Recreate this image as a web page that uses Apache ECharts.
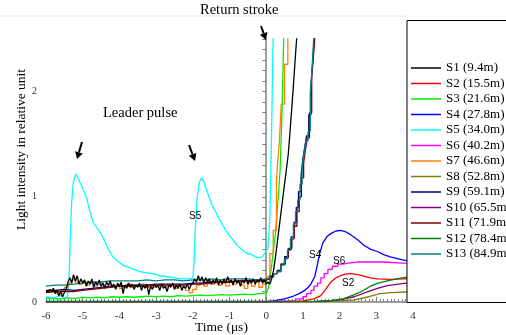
<!DOCTYPE html>
<html>
<head>
<meta charset="utf-8">
<script src="https://cdn.jsdelivr.net/npm/echarts@6/dist/echarts.min.js"></script>
<style>
  html, body { margin: 0; padding: 0; background: #fff; }
  #chart { width: 506px; height: 335px; }
</style>
</head>
<body>
<div id="chart"></div>
<script>
// Light intensity recorded at 13 stations along the channel, time in microseconds.
const seriesNames = ['S1 (9.4m)', 'S2 (15.5m)', 'S3 (21.6m)', 'S4 (27.8m)', 'S5 (34.0m)', 'S6 (40.2m)',
  'S7 (46.6m)', 'S8 (52.8m)', 'S9 (59.1m)', 'S10 (65.5m)', 'S11 (71.9m)', 'S12 (78.4m)', 'S13 (84.9m)'];
const seriesColors = ['#000000', '#ff0000', '#00ee00', '#0000ff', '#00ffff', '#ff00ff',
  '#ff8000', '#808000', '#000080', '#800080', '#800000', '#008000', '#008080'];
const xTicks = [-6, -5, -4, -3, -2, -1, 0, 1, 2, 3, 4];
const yTicks = [0, 1, 2];

// S1: pre-stroke record sampled every 0.05 us from -6 us, then the rise
const s1Start = -6, s1Step = 0.05;
const s1Noise = [0.11, 0.09, 0.12, 0.10, 0.13, 0.08, 0.11, 0.06, 0.10, 0.05, 0.09, 0.12, 0.19, 0.23, 0.18, 0.26, 0.20, 0.25, 0.17, 0.22,
  0.18, 0.21, 0.15, 0.20, 0.17, 0.22, 0.14, 0.19, 0.16, 0.21, 0.15, 0.18, 0.13, 0.19, 0.16, 0.20, 0.14, 0.17, 0.12, 0.18,
  0.15, 0.19, 0.08, 0.16, 0.13, 0.18, 0.14, 0.17, 0.12, 0.16, 0.14, 0.18, 0.11, 0.16, 0.13, 0.17, 0.07, 0.15, 0.12, 0.17,
  0.14, 0.16, 0.11, 0.17, 0.13, 0.15, 0.10, 0.16, 0.14, 0.18, 0.12, 0.16, 0.13, 0.17, 0.11, 0.15, 0.13, 0.17, 0.12, 0.16,
  0.18, 0.22, 0.19, 0.25, 0.20, 0.24, 0.18, 0.23, 0.19, 0.22, 0.17, 0.21, 0.18, 0.23, 0.16, 0.21, 0.17, 0.22, 0.18, 0.24,
  0.19, 0.21, 0.16, 0.22, 0.18, 0.20, 0.15, 0.21, 0.18, 0.23, 0.17, 0.21, 0.18, 0.22, 0.17, 0.21, 0.19, 0.23, 0.18, 0.21, 0.17];
const s1RiseT = [0.05, 0.10, 0.15, 0.20, 0.25, 0.30, 0.35, 0.40, 0.45, 0.50, 0.55, 0.60, 0.65, 0.70, 0.75, 0.80, 0.84];
const s1RiseV = [0.19, 0.17, 0.22, 0.30, 0.42, 0.56, 0.70, 0.84, 0.98, 1.12, 1.26, 1.40, 1.62, 1.86, 2.10, 2.36, 2.55];

// S2
const s2T = [-6, 0, 1.0, 1.3, 1.49, 1.6, 1.7, 1.76, 1.9, 2.03, 2.15, 2.3, 2.5, 2.66, 2.85, 3.03, 3.4, 3.72, 4];
const s2V = [0.003, 0.003, 0.01, 0.03, 0.06, 0.11, 0.16, 0.19, 0.23, 0.25, 0.265, 0.27, 0.26, 0.245, 0.23, 0.22, 0.215, 0.22, 0.22];

// S3: baseline every 0.2 us from -6 us, then the rise
const s3Start = -6, s3Step = 0.2;
const s3Base = [0.03, 0.035, 0.03, 0.04, 0.035, 0.045, 0.04, 0.045, 0.04, 0.05, 0.045, 0.05, 0.045, 0.05, 0.055, 0.05,
  0.055, 0.05, 0.06, 0.055, 0.06, 0.065, 0.06, 0.065, 0.07, 0.065, 0.07, 0.075, 0.07, 0.08, 0.085];
const s3RiseT = [0.05, 0.1, 0.15, 0.2, 0.25, 0.3, 0.38, 0.43, 0.48];
const s3RiseV = [0.12, 0.22, 0.35, 0.5, 0.65, 0.86, 1.26, 1.8, 2.55];

// S4
const s4T = [-6, 0, 0.2, 0.5, 0.7, 0.9, 1.05, 1.2, 1.32, 1.38, 1.45, 1.54, 1.65, 1.76, 1.9, 2.03, 2.15, 2.3, 2.5, 2.66, 2.85, 3.03, 3.2, 3.38, 3.55, 3.72, 4.0];
const s4V = [0.005, 0.005, 0.01, 0.03, 0.05, 0.08, 0.11, 0.16, 0.24, 0.33, 0.45, 0.56, 0.62, 0.65, 0.675, 0.68, 0.67, 0.64, 0.59, 0.54, 0.5, 0.48, 0.45, 0.43, 0.415, 0.40, 0.38];

// S5: two leader pulses and the return stroke
const s5T = [-6.0, -5.8, -5.6, -5.5, -5.42, -5.38, -5.34, -5.3, -5.25, -5.18, -5.12, -5.05, -4.98, -4.9, -4.82, -4.72, -4.62, -4.52,
  -4.4, -4.3, -4.18, -4.05, -3.9, -3.75, -3.6, -3.45, -3.3, -3.1, -2.9, -2.7, -2.5, -2.3, -2.1, -2.0,
  -1.97, -1.93, -1.88, -1.82, -1.76, -1.7, -1.62, -1.54, -1.45, -1.38, -1.3, -1.2, -1.1, -1.0, -0.9, -0.8, -0.7, -0.6,
  -0.5, -0.4, -0.3, -0.2, -0.1, -0.05, 0.0, 0.05, 0.1, 0.13, 0.16, 0.19];
const s5V = [0.05, 0.04, 0.06, 0.04, 0.05, 0.15, 0.6, 0.95, 1.15, 1.22, 1.17, 1.12, 1.06, 1.0, 0.88, 0.76, 0.71, 0.66,
  0.58, 0.5, 0.43, 0.39, 0.35, 0.33, 0.31, 0.29, 0.28, 0.27, 0.25, 0.24, 0.23, 0.22, 0.22, 0.23,
  0.35, 0.7, 1.0, 1.14, 1.18, 1.14, 1.06, 0.98, 0.9, 0.86, 0.8, 0.74, 0.68, 0.63, 0.59, 0.54, 0.51, 0.48,
  0.46, 0.45, 0.43, 0.42, 0.43, 0.46, 0.48, 0.52, 0.8, 1.3, 1.9, 2.55];

// S6
const s6T = [-6, 0, 0.8, 1.0, 1.1, 1.22, 1.3, 1.4, 1.49, 1.58, 1.68, 1.8, 1.95, 2.1, 2.22, 2.5, 2.84, 3.2, 3.72, 4];
const s6V = [0.003, 0.003, 0.01, 0.03, 0.05, 0.08, 0.11, 0.15, 0.18, 0.23, 0.27, 0.31, 0.34, 0.36, 0.37, 0.38, 0.38, 0.38, 0.37, 0.37];

// S7: baseline every 0.1 us from -6 us, then the rise
const s7Start = -6, s7Step = 0.1;
const s7Base = [0.10, 0.09, 0.11, 0.10, 0.08, 0.11, 0.14, 0.18, 0.21, 0.19, 0.17, 0.19, 0.16, 0.18, 0.15, 0.17, 0.16, 0.14, 0.17, 0.15,
  0.16, 0.13, 0.15, 0.17, 0.14, 0.16, 0.15, 0.17, 0.14, 0.16, 0.14, 0.15, 0.17, 0.14, 0.16, 0.15, 0.13, 0.16, 0.14, 0.11,
  0.09, 0.12, 0.16, 0.18, 0.15, 0.19, 0.17, 0.20, 0.16, 0.18, 0.15, 0.19, 0.17, 0.20, 0.16, 0.13, 0.18, 0.15, 0.19, 0.14, 0.17];
const s7RiseT = [0.1, 0.19, 0.28, 0.32, 0.36, 0.41, 0.5, 0.59, 0.68];
const s7RiseV = [0.24, 0.46, 0.68, 1.16, 1.35, 1.53, 1.88, 2.26, 2.55];

// S8, S10, S12
const s8T = [-6, 0, 1.8, 2.4, 2.8, 3.1, 3.4, 3.8, 4];
const s8V = [0.002, 0.002, 0.005, 0.02, 0.05, 0.08, 0.09, 0.095, 0.095];
const s10T = [-6, 0, 1.5, 2.0, 2.4, 2.7, 3.03, 3.3, 3.6, 3.8, 4];
const s10V = [0.002, 0.002, 0.005, 0.02, 0.05, 0.09, 0.13, 0.155, 0.17, 0.18, 0.185];
const s12T = [-6, 0, 1.3, 1.8, 2.1, 2.4, 2.6, 2.84, 3.05, 3.3, 3.55, 3.8, 4];
const s12V = [0.002, 0.002, 0.005, 0.015, 0.03, 0.07, 0.1, 0.15, 0.18, 0.2, 0.22, 0.235, 0.24];

// S9, S11, S13: baseline every 0.25 us from -6 us, then stepped rise
const slowStart = -6, slowStep = 0.25;
const s9Base = [0.11, 0.11, 0.12, 0.11, 0.12, 0.13, 0.14, 0.15, 0.15, 0.16, 0.16, 0.16, 0.17, 0.17, 0.17, 0.17, 0.18, 0.18, 0.19, 0.19, 0.19, 0.2, 0.2, 0.2, 0.2];
const s9RiseT = [0.1, 0.2, 0.3, 0.4, 0.5, 0.6, 0.68, 0.76, 0.82, 0.88, 0.95, 1.0, 1.05, 1.1, 1.16, 1.22, 1.27, 1.32, 1.36];
const s9RiseV = [0.22, 0.24, 0.27, 0.3, 0.36, 0.43, 0.5, 0.62, 0.76, 0.9, 1.05, 1.2, 1.36, 1.47, 1.58, 1.78, 2.05, 2.3, 2.55];
const s11Base = [0.09, 0.1, 0.1, 0.1, 0.11, 0.12, 0.13, 0.14, 0.15, 0.15, 0.15, 0.15, 0.16, 0.16, 0.16, 0.16, 0.17, 0.17, 0.18, 0.19, 0.19, 0.2, 0.2, 0.21, 0.21];
const s11RiseT = [0.1, 0.2, 0.3, 0.4, 0.52, 0.6, 0.7, 0.76, 0.84, 0.9, 0.96, 1.02, 1.07, 1.12, 1.18, 1.24, 1.28, 1.33, 1.37];
const s11RiseV = [0.22, 0.25, 0.27, 0.29, 0.36, 0.42, 0.51, 0.6, 0.72, 0.86, 1.0, 1.18, 1.32, 1.45, 1.56, 1.8, 2.15, 2.3, 2.55];
const s13Base = [0.15, 0.16, 0.16, 0.17, 0.18, 0.19, 0.19, 0.2, 0.2, 0.2, 0.2, 0.21, 0.2, 0.21, 0.21, 0.2, 0.21, 0.21, 0.22, 0.21, 0.22, 0.22, 0.22, 0.21, 0.22];
const s13RiseT = [0.1, 0.2, 0.3, 0.4, 0.5, 0.58, 0.66, 0.74, 0.8, 0.86, 0.92, 0.98, 1.03, 1.08, 1.14, 1.2, 1.25, 1.3, 1.35];
const s13RiseV = [0.23, 0.25, 0.27, 0.29, 0.35, 0.41, 0.49, 0.60, 0.74, 0.86, 0.97, 1.12, 1.28, 1.42, 1.53, 1.62, 1.98, 2.22, 2.55];

// pair helpers
function pairs(ts, vs) { return ts.map((t, i) => [t, vs[i]]); }
function sampled(start, step, vs) { return vs.map((v, i) => [+(start + i * step).toFixed(3), v]); }

const seriesData = [
  sampled(s1Start, s1Step, s1Noise).concat(pairs(s1RiseT, s1RiseV)),
  pairs(s2T, s2V),
  sampled(s3Start, s3Step, s3Base).concat(pairs(s3RiseT, s3RiseV)),
  pairs(s4T, s4V),
  pairs(s5T, s5V),
  pairs(s6T, s6V),
  sampled(s7Start, s7Step, s7Base).concat(pairs(s7RiseT, s7RiseV)),
  pairs(s8T, s8V),
  sampled(slowStart, slowStep, s9Base).concat(pairs(s9RiseT, s9RiseV)),
  pairs(s10T, s10V),
  sampled(slowStart, slowStep, s11Base).concat(pairs(s11RiseT, s11RiseV)),
  pairs(s12T, s12V),
  sampled(slowStart, slowStep, s13Base).concat(pairs(s13RiseT, s13RiseV))
];
const stepped = [false, false, false, false, false, 'start', 'start', false, 'start', false, 'start', false, 'start'];

const serif = 'Liberation Serif';
const chart = echarts.init(document.getElementById('chart'), null, { renderer: 'canvas' });

const series = seriesNames.map((name, i) => ({
  name: name,
  type: 'line',
  data: seriesData[i],
  color: seriesColors[i],
  step: stepped[i],
  showSymbol: false,
  symbol: 'none',
  animation: false,
  z: i === 0 ? 3 : 2,
  lineStyle: { width: 1.3, color: seriesColors[i] }
}));

function arrow(x1, y1, x2, y2) {
  const ang = Math.atan2(y2 - y1, x2 - x1);
  const hl = 7, hw = 4;
  const bx = x2 - hl * Math.cos(ang), by = y2 - hl * Math.sin(ang);
  const px = -Math.sin(ang) * hw, py = Math.cos(ang) * hw;
  return [
    { type: 'line', z: 60, shape: { x1: x1, y1: y1, x2: bx, y2: by }, style: { stroke: '#000', lineWidth: 2 } },
    { type: 'polygon', z: 60, shape: { points: [[x2, y2], [bx + px, by + py], [bx - px, by - py]] }, style: { fill: '#000' } }
  ];
}

const graphics = [
  { type: 'line', z: 1, shape: { x1: 0, y1: 16, x2: 406, y2: 16 }, style: { stroke: '#e6e6e6', lineWidth: 1 } },
  { type: 'rect', z: 50, shape: { x: 407, y: 20.5, width: 120, height: 282 }, style: { fill: '#fff', stroke: '#000', lineWidth: 1 } },
  { type: 'text', z: 60, left: 200, top: 3, style: { text: 'Return stroke', font: '14.5px "Liberation Serif"', fill: '#000' } },
  { type: 'text', z: 60, left: 103, top: 106, style: { text: 'Leader pulse', font: '14.5px "Liberation Serif"', fill: '#000' } },
  { type: 'text', z: 60, left: 195, top: 320, style: { text: 'Time (μs)', font: '13.5px "Liberation Serif"', fill: '#000' } },
  { type: 'text', z: 60, x: 21, y: 149.5, rotation: Math.PI / 2,
    style: { text: 'Light intensity in relative unit', font: '13.5px "Liberation Serif"', fill: '#000', align: 'center', verticalAlign: 'middle' } },
  { type: 'text', z: 60, left: 189, top: 211, style: { text: 'S5', font: '10px "Liberation Sans"', fill: '#000' } },
  { type: 'text', z: 60, left: 309, top: 250, style: { text: 'S4', font: '10px "Liberation Sans"', fill: '#000' } },
  { type: 'text', z: 60, left: 333, top: 256, style: { text: 'S6', font: '10px "Liberation Sans"', fill: '#000' } },
  { type: 'text', z: 60, left: 342, top: 278, style: { text: 'S2', font: '10px "Liberation Sans"', fill: '#000' } }
].concat(arrow(82, 142, 77, 159), arrow(189, 145, 195, 161), arrow(261, 26, 266, 40));

chart.setOption({
  animation: false,
  backgroundColor: '#fff',
  grid: { left: 46, top: 39, right: 93, bottom: 33, containLabel: false },
  legend: {
    show: true,
    data: seriesNames,
    orient: 'vertical',
    left: 411,
    top: 60.5,
    padding: 0,
    itemWidth: 30,
    itemHeight: 1.5,
    itemGap: 0.5,
    icon: 'rect',
    z: 100,
    selectedMode: false,
    textStyle: { fontFamily: serif, fontSize: 13, color: '#000', lineHeight: 15 }
  },
  xAxis: {
    type: 'value',
    min: xTicks[0],
    max: xTicks[xTicks.length - 1],
    interval: 1,
    axisLine: { lineStyle: { color: '#808080', width: 1.5 } },
    axisTick: { show: true, inside: true, length: 5, lineStyle: { color: '#808080' } },
    minorTick: { show: true, splitNumber: 10, length: 3, lineStyle: { color: '#808080' } },
    splitLine: { show: false },
    axisLabel: { margin: 9, fontFamily: serif, fontSize: 11, color: '#333',
      formatter: v => xTicks.indexOf(v) >= 0 ? String(v) : '' }
  },
  yAxis: {
    type: 'value',
    min: 0,
    max: 2.5,
    interval: 0.5,
    axisLine: { show: true, lineStyle: { color: '#808080', width: 1.5 } },
    axisTick: { show: true, inside: false, length: 4, lineStyle: { color: '#808080' } },
    minorTick: { show: true, splitNumber: 5, length: 4, lineStyle: { color: '#808080' } },
    splitLine: { show: false },
    axisLabel: { margin: 9, fontFamily: serif, fontSize: 10, color: '#333', showMaxLabel: false,
      formatter: v => yTicks.indexOf(v) >= 0 ? String(v) : '' }
  },
  series: series,
  graphic: graphics
});
</script>
</body>
</html>
